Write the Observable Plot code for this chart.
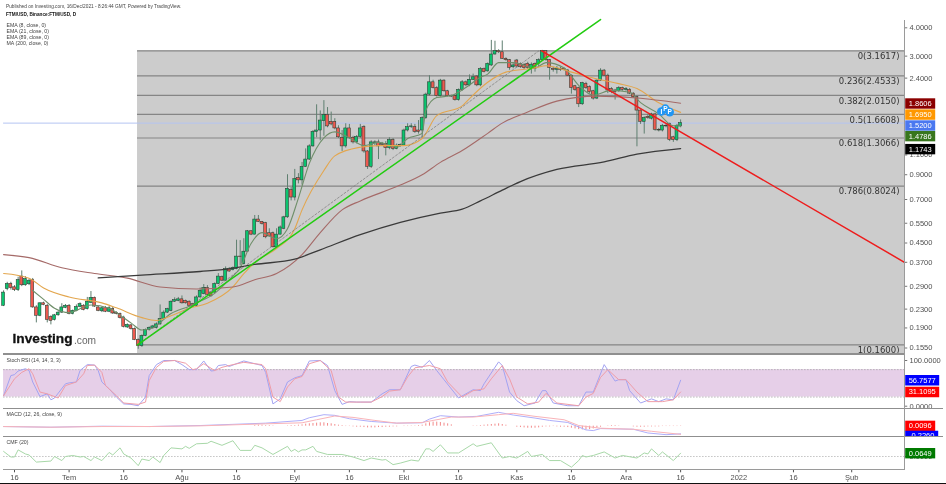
<!DOCTYPE html>
<html><head><meta charset="utf-8">
<script src="https://cdn.jsdelivr.net/npm/d3@7"></script>
<script src="https://cdn.jsdelivr.net/npm/@observablehq/plot@0.6"></script>
<style>
html,body{margin:0;padding:0;background:#fff}
#chart{position:relative;width:946px;height:484px;overflow:hidden;background:#fff;filter:blur(0.3px)}
#chart>svg{position:absolute;left:0;display:block}
.sep{position:absolute}
</style></head><body><div id="chart"></div>
<script>
// Candles, one per day from 2021-06-13 (day -3) to 2021-12-16 (day 183)
const open=[.238,.282,.297,.287,.279,.320,.293,.296,.309,.234,
.215,.244,.238,.212,.206,.216,.222,.233,.238,.219,
.226,.235,.238,.230,.245,.258,.234,.225,.232,.224,
.230,.221,.219,.211,.191,.195,.188,.168,.158,.175,
.186,.190,.190,.197,.208,.222,.226,.248,.250,.254,
.250,.248,.242,.238,.259,.268,.285,.272,.272,.297,
.318,.307,.345,.342,.345,.392,.363,.412,.507,.490,
.571,.558,.551,.497,.497,.431,.490,.520,.584,.770,
.714,.870,.850,.975,1.05,1.20,1.39,1.41,1.55,1.65,
1.54,1.54,1.44,1.31,1.20,1.44,1.31,1.25,1.32,1.46,
1.14,.975,1.24,1.25,1.23,1.23,1.18,1.28,1.17,1.21,
1.21,1.41,1.46,1.46,1.41,1.41,1.60,2.03,2.30,2.17,
2.00,2.34,2.10,2.00,2.00,1.92,2.13,2.30,2.23,2.36,
2.44,2.23,2.63,2.57,2.73,3.05,3.155,3.12,2.92,2.88,
2.68,2.87,2.775,2.74,2.775,2.64,2.775,2.775,2.88,3.155,
2.88,2.64,2.61,2.64,2.64,2.59,2.46,2.21,2.17,1.84,
2.26,2.19,2.10,1.95,2.34,2.59,2.46,2.15,2.116,2.10,
2.17,2.13,2.13,2.05,1.977,1.726,1.54,1.62,1.59,1.66,
1.42,1.41,1.48,1.507,1.316,1.28,1.47];
const high=[.277,.302,.302,.292,.318,.339,.320,.312,.314,.238,
.245,.247,.241,.215,.218,.224,.243,.241,.241,.228,
.240,.245,.241,.259,.275,.260,.236,.235,.236,.236,
.234,.224,.221,.214,.198,.197,.190,.170,.177,.188,
.192,.195,.200,.240,.226,.232,.250,.258,.259,.263,
.252,.250,.244,.263,.285,.295,.292,.275,.300,.330,
.322,.353,.351,.353,.463,.461,.470,.511,.510,.595,
.595,.560,.555,.520,.503,.520,.535,.590,.900,.790,
.950,.910,1.02,1.17,1.22,1.41,1.83,1.72,1.91,1.78,
1.70,1.59,1.48,1.41,1.51,1.50,1.33,1.34,1.50,1.48,
1.15,1.27,1.27,1.28,1.25,1.26,1.31,1.30,1.23,1.23,
1.43,1.51,1.51,1.50,1.56,1.62,2.06,2.46,2.35,2.20,
2.37,2.36,2.12,2.02,2.02,2.15,2.34,2.33,2.48,2.50,
2.46,2.67,2.66,2.80,3.52,3.49,3.20,3.50,2.95,2.90,
2.78,2.90,2.80,2.78,2.82,2.80,2.80,2.92,3.18,3.17,
2.90,2.68,2.70,2.68,2.66,2.62,2.48,2.23,2.19,2.30,
2.30,2.22,2.12,2.36,2.64,2.62,2.50,2.18,2.14,2.20,
2.19,2.18,2.16,2.07,2.00,1.74,1.62,1.66,1.68,1.68,
1.44,1.50,1.50,1.52,1.33,1.50,1.57];
const low=[.236,.277,.279,.275,.275,.289,.290,.292,.232,.200,
.213,.238,.200,.196,.204,.214,.220,.231,.217,.217,
.224,.233,.226,.228,.243,.234,.224,.222,.222,.222,
.218,.217,.208,.190,.189,.186,.167,.153,.156,.174,
.184,.188,.188,.195,.206,.220,.224,.246,.248,.242,
.242,.236,.234,.236,.257,.266,.264,.260,.270,.295,
.304,.304,.334,.339,.343,.357,.360,.410,.485,.488,
.555,.540,.470,.478,.428,.428,.488,.515,.578,.690,
.690,.820,.810,.970,1.04,1.19,1.31,1.27,1.33,1.45,
1.48,1.42,1.30,1.14,1.18,1.29,1.23,1.23,1.30,1.12,
.950,.960,1.21,1.05,1.20,1.09,1.16,1.15,1.16,1.19,
1.20,1.39,1.44,1.37,1.36,1.30,1.58,2.00,2.15,1.98,
1.98,2.08,1.98,1.97,1.90,1.90,2.10,2.20,2.20,2.34,
2.20,2.20,2.53,2.55,2.70,3.03,3.08,2.90,2.85,2.60,
2.64,2.66,2.65,2.62,2.62,2.50,2.55,2.70,2.85,2.85,
2.35,2.55,2.50,2.57,2.58,2.44,2.04,2.10,1.78,1.82,
2.14,2.05,1.92,1.93,2.32,2.44,2.05,2.05,1.92,2.08,
2.10,2.10,2.03,1.95,1.195,1.50,1.36,1.58,1.57,1.40,
1.39,1.39,1.45,1.26,1.25,1.26,1.45];
const close=[.272,.297,.285,.279,.309,.293,.312,.307,.234,.215,
.244,.240,.206,.204,.216,.222,.234,.238,.219,.226,
.235,.242,.228,.248,.258,.236,.226,.232,.224,.232,
.220,.219,.210,.192,.196,.188,.168,.158,.175,.186,
.190,.193,.197,.208,.222,.230,.248,.252,.254,.244,
.244,.238,.236,.259,.277,.285,.266,.262,.297,.320,
.307,.345,.337,.349,.392,.390,.412,.507,.490,.571,
.558,.546,.477,.481,.431,.490,.527,.584,.780,.714,
.860,.850,.975,1.05,1.20,1.39,1.41,1.56,1.65,1.47,
1.50,1.44,1.316,1.20,1.44,1.31,1.25,1.32,1.44,1.14,
.975,1.25,1.25,1.20,1.22,1.18,1.28,1.17,1.21,1.215,
1.41,1.46,1.47,1.39,1.39,1.60,2.03,2.30,2.17,2.00,
2.34,2.10,2.00,1.99,1.92,2.13,2.30,2.23,2.36,2.42,
2.23,2.63,2.55,2.775,3.05,3.155,3.12,2.92,2.88,2.66,
2.73,2.70,2.68,2.66,2.66,2.75,2.64,2.88,3.155,2.88,
2.66,2.61,2.64,2.61,2.61,2.46,2.17,2.13,1.84,2.28,
2.17,2.08,1.95,2.34,2.59,2.46,2.116,2.08,2.08,2.17,
2.13,2.15,2.05,1.977,1.726,1.54,1.60,1.60,1.66,1.42,
1.41,1.48,1.47,1.28,1.28,1.48,1.52];

const ema8Days=[5,8,11,15,21,26,28,32,35,38,43,48,50,55,59,62,65,68,72,75,78,81,85,88,92,96,100,105,108,112,113,116,120,124,128,130,133,137,143,146,151,155,159,164,169,172,177,181,183];
const ema8=[.278,.254,.232,.222,.24,.232,.222,.2,.186,.19,.22,.237,.245,.27,.31,.35,.448,.5,.47,.52,.71,1.01,1.31,1.39,1.31,1.21,1.25,1.19,1.3,1.37,1.73,1.97,2.01,2.18,2.42,2.5,2.81,2.81,2.66,2.81,2.66,2.23,2.02,2.12,2.08,1.87,1.67,1.48,1.4786];
const ema21Days=[-3,4,8,15,24,28,35,39,43,48,53,60,63,67,72,77,79,85,88,95,100,107,112,116,123,125,130,135,143,146,153,161,166,171,177,183];
const ema21=[.33,.315,.285,.26,.245,.233,.211,.205,.215,.232,.244,.288,.33,.38,.425,.52,.63,.94,1.09,1.19,1.21,1.21,1.3,1.64,1.81,1.95,2.3,2.55,2.66,2.72,2.55,2.36,2.27,2.16,1.87,1.695];
const ema89Days=[-3,4,13,22,31,40,50,60,66,72,79,84,90,95,106,112,117,123,130,134,141,149,160,171,183];
const ema89=[.4,.388,.35,.33,.315,.288,.282,.288,.31,.33,.4,.5,.63,.69,.81,.9,1.02,1.15,1.37,1.52,1.7,1.9,2,1.96,1.8606];
const ma200Days=[23,35,51,59,66,77,84,95,106,117,123,128,134,139,149,162,171,183];
const ma200=[.316,.325,.337,.346,.362,.382,.42,.49,.555,.61,.635,.69,.77,.84,.95,1.025,1.11,1.1743];

const fibLevels=["0","0.236","0.382","0.5","0.618","0.786","1"];
const fibPrices=[3.1617,2.4533,2.015,1.6608,1.3066,.8024,.16];
const fibFloor=.1465, fibFromDay=33.8, fibToDay=244.5;
const trendDays=[33.8,161], trendPrices=[.16,4.35];
const fibDiagDays=[33.8,144], fibDiagPrices=[.16,3.1617];
const fallDays=[144.8,244.5], fallPrices=[3.1617,.37];
const lastPrice=1.52;
const priceTicks=[4,3,2.4,1.1,.9,.7,.55,.45,.37,.29,.23,.19,.155];

const markerDays=[177.7,178.8,180], markerPrices=[1.71,1.76,1.70], markerLetters=["I","P","P"];

const stochKDays=[-3,-1,0,1,3,4,5,7,9,10,11,14,15,17,18,20,22,23,24,26,28,30,32,34,36,37,39,41,44,46,48,50,52,54,55,56,58,59,63,68,69,71,73,75,77,79,81,84,86,88,90,92,94,98,101,103,106,109,110,112,114,116,118,122,126,128,129,133,134,136,138,140,143,145,146,148,152,155,157,159,162,165,166,168,169,172,175,177,179,181,183];
const stochK=[23,67,69,77,82,78,53,21,27,14,18,49,51,53,78,91,90,78,53,38,20,5,4,1,20,67,91,100,100,91,80,80,99,77,78,89,91,87,99,89,74,5,16,53,62,67,99,100,89,34,4,10,9,9,27,36,36,87,90,85,100,78,58,18,36,34,49,97,89,31,12,1,7,34,34,7,1,1,31,31,91,55,58,58,34,7,16,10,16,14,56.7577];
const stochDDays=[-3,0,2,4,5,7,9,12,14,17,19,20,22,24,25,28,30,34,36,37,39,41,44,47,49,50,52,55,57,60,63,68,69,71,73,75,77,79,81,84,87,89,91,95,98,101,103,106,108,110,114,117,119,123,126,129,131,134,136,138,141,144,146,149,155,157,159,161,163,166,168,171,174,178,181,183];
const stochD=[23,60,74,82,71,31,27,18,45,53,71,89,90,74,45,23,7,4,9,56,85,98,100,94,80,82,93,78,85,91,96,91,82,20,10,42,60,65,93,100,78,20,9,9,9,21,33,36,64,84,89,82,53,20,34,38,60,89,60,20,5,9,28,7,1,20,28,63,80,58,58,31,10,10,14,31.1095];

const macdDays=[-3,10,24,37,51,69,79,81,85,88,92,98,105,112,114,117,122,127,133,137,143,147,152,157,159,161,170,174,179,183];
const macd=[-.01,-.03,0,-.01,.02,.09,.17,.25,.34,.32,.22,.14,.09,.1,.21,.31,.27,.29,.41,.33,.24,.17,.11,-.11,-.13,-.07,-.09,-.2,-.25,-.226];
const signalDays=[-3,10,24,37,51,69,79,83,88,93,99,105,112,115,120,126,133,137,143,151,155,161,170,175,183];
const signal=[-.01,-.03,-.01,-.01,.01,.07,.1,.19,.3,.26,.17,.09,.11,.17,.27,.27,.34,.38,.29,.19,.02,-.06,-.09,-.15,-.24];
const histFromDay=66;
const hist=[.02,.03,.03,.02,.02,.01,0,0,0,.01,.02,.02,.03,.04,
.06,.07,.08,.09,.10,.10,.08,.07,.05,.03,.02,
-.01,-.01,-.02,-.03,-.03,-.04,-.05,-.05,-.05,-.04,-.04,-.03,-.03,-.02,-.02,
0,-.01,-.01,.01,.01,.02,.03,
.07,.10,.12,.12,.11,.09,.07,.04,
0,0,0,0,0,.01,
.01,.02,.03,.04,.05,.06,.07,.05,
.03,0,0,
-.03,-.04,-.05,-.06,-.06,-.06,-.05,-.03,-.02,-.02,-.01,-.02,-.03,-.03,-.04,
-.06,-.08,-.10,-.11,-.11,-.10,-.08,-.05,
-.03,0,.01,.02,.02,.01,0,0,0,
-.02,-.03,-.03,-.03,-.02,-.02,-.02,-.02,-.01,-.01,-.01,-.01,-.01,.01];

const cmfDays=[-3,-1,0,1,3,4,6,10,11,13,14,16,18,19,21,22,24,26,27,29,30,32,34,35,37,38,40,41,43,46,47,48,50,53,54,57,60,62,65,66,68,71,75,76,77,78,79,80,82,83,86,90,93,96,98,101,102,104,106,109,111,113,114,115,117,119,122,126,127,131,134,136,138,141,142,145,147,150,153,155,156,157,159,162,165,167,171,173,174,175,177,178,181,183];
const cmf=[.1,-.01,-.01,.13,.05,.03,-.11,-.09,0,-.08,0,.02,-.01,0,-.08,-.01,-.08,.08,.03,.17,.05,-.03,-.18,-.05,-.08,-.01,-.12,.02,.17,.15,.2,.16,.25,.26,.3,.22,.31,.12,.12,.22,.17,.04,.2,.1,.14,.09,.13,.13,.2,.1,.04,.04,-.01,-.08,-.03,-.07,-.06,-.16,-.13,-.07,-.09,.15,.15,.1,.23,.07,.07,.25,.2,.27,-.03,0,-.03,.1,0,.04,-.08,-.08,-.21,-.08,.02,-.01,.02,.09,-.03,.02,-.03,.07,.05,.15,.02,.09,-.08,.0649];

const timeTickDates=["2021-06-16","2021-07-01","2021-07-16","2021-08-01","2021-08-16","2021-09-01","2021-09-16","2021-10-01","2021-10-16","2021-11-01","2021-11-16","2021-12-01","2021-12-16","2022-01-01","2022-01-16","2022-02-01"];
const timeTickLabels=["16","Tem","16","Ağu","16","Eyl","16","Eki","16","Kas","16","Ara","16","2022","16","Şub"];

// ---------- helpers ----------
const epoch=Date.UTC(2021,5,16);
const day=t=>new Date(epoch+t*864e5);
const series=(days,vals)=>days.map((t,i)=>({date:day(t),v:vals[i]}));
const xScale={type:"utc",domain:[day(-3),day(245)],range:[3.08,905.8],axis:null};
const sans="'Liberation Sans',Arial,sans-serif";
const common={width:946,marginLeft:0,marginTop:0,marginRight:42,marginBottom:0,x:xScale,
  style:{background:"transparent",fontFamily:sans,overflow:"visible"}};
const axisInk="#505050";
const note=(txt,dx,dy,o={})=>Plot.text([txt],{text:d=>d,frameAnchor:"top-left",textAnchor:"start",lineAnchor:"middle",dx,dy,fontSize:5.2,fill:"#444",...o});
function tag(value,label,fill,dy=0,w=30){
  return [
    Plot.dot([value],{y:d=>d,frameAnchor:"right",dx:w/2+.7,dy,fill,stroke:"none",
      symbol:{draw(c){c.rect(-w/2,-5.2,w,10.4)}}}),
    Plot.text([value],{y:d=>d,text:()=>label,frameAnchor:"right",textAnchor:"middle",dx:w/2+.7,dy,fill:"#fff",fontSize:7.5})
  ];
}
const tAxis=(vals)=>[
  Plot.ruleY(vals,{x1:()=>day(fibToDay),x2:()=>day(fibToDay+.9),stroke:axisInk,strokeWidth:.8}),
  Plot.text(vals,{y:d=>d,text:d=>d.toFixed(4),frameAnchor:"right",textAnchor:"start",dx:5,fontSize:7.5,fill:axisInk})
];

const candles=close.map((c,i)=>({t:i-3,open:open[i],high:high[i],low:low[i],close:c}));
const bodies=(test,fill)=>Plot.rect(candles.filter(test),{x1:d=>day(d.t-.4),x2:d=>day(d.t+.4),y1:"open",y2:"close",fill,stroke:"#2a3a30",strokeWidth:.55});
const fibData=fibPrices.map((p,i)=>({p,label:`${fibLevels[i]}(${p.toFixed(4)})`}));
const line=(d,stroke,strokeWidth=1.1,o={})=>Plot.line(d,{x:"date",y:"v",stroke,strokeWidth,curve:"monotone-x",...o});

// ---------- price panel ----------
const main=Plot.plot({...common,height:354,
  y:{type:"log",domain:[4,.155],range:[27.3,347.5],axis:null},
  marks:[
    Plot.rect([0],{x1:()=>day(fibFromDay),x2:()=>day(fibToDay),y1:()=>fibPrices[0],y2:()=>fibFloor,fill:"#cccccc"}),
    Plot.ruleY(fibPrices,{x1:()=>day(fibFromDay),x2:()=>day(fibToDay),stroke:"#858585",strokeWidth:1.2}),
    Plot.ruleY([lastPrice],{x1:()=>day(-3),x2:()=>day(fibToDay),stroke:"#b4c4f2",strokeWidth:1}),
    Plot.ruleX(candles,{x:d=>day(d.t),y1:"low",y2:"high",stroke:"#5f7f70",strokeWidth:1}),
    bodies(d=>d.close>=d.open,"#0bc46f"),
    bodies(d=>d.close<d.open,"#ee5a50"),
    line(series(ema8Days,ema8),"#6f8f6a"),
    line(series(ema21Days,ema21),"#e3a64e"),
    line(series(ema89Days,ema89),"#a56a68"),
    line(series(ma200Days,ma200),"#3a3a3a",1.3),
    Plot.line(series(fibDiagDays,fibDiagPrices),{x:"date",y:"v",stroke:"#777",strokeWidth:.7,strokeDasharray:"2,2"}),
    Plot.line(series(trendDays,trendPrices),{x:"date",y:"v",stroke:"#22cc11",strokeWidth:1.5}),
    Plot.line(series(fallDays,fallPrices),{x:"date",y:"v",stroke:"#ee1c1c",strokeWidth:1.5}),
    Plot.dot(series(markerDays,markerPrices),{x:"date",y:"v",r:4.3,fill:"#2196f3"}),
    Plot.text(series(markerDays,markerPrices),{x:"date",y:"v",text:(d,i)=>markerLetters[i],fill:"#fff",fontSize:6.5,fontWeight:700}),
    Plot.text(fibData,{y:"p",text:"label",frameAnchor:"right",textAnchor:"end",dx:-5,dy:5.5,fontFamily:"'DejaVu Sans',sans-serif",fontSize:8.5,fill:"#333"}),
    tAxis(priceTicks),
    tag(1.8606,"1.8606","#8b0000",.3),
    tag(1.695,"1.6950","#ff9800",2.2),
    tag(1.52,"1.5200","#4a78f0",2.4),
    tag(1.4786,"1.4786","#38761d",10.3),
    tag(1.1743,"1.1743","#000",.6),
    note("Published on Investing.com, 16/Dec/2021 - 8:26:44 GMT, Powered by TradingView.",5.5,6,{fontSize:4.75}),
    note("FTM/USD, Binance:FTM/USD, D",5.5,14,{fontSize:4.7,fontWeight:700,fill:"#111"}),
    note("EMA (8, close, 0)",6,25),
    note("EMA (21, close, 0)",6,31),
    note("EMA (89, close, 0)",6,36.7),
    note("MA (200, close, 0)",6,42.5),
    note("Investing",12,338.5,{fontWeight:700,fill:"#111",fontSize:13.7,stroke:"#111",strokeWidth:.3}),
    note(".com",73.5,340,{fontSize:10.2,fill:"#666"})
  ]});

// ---------- Stoch RSI ----------
const stoch=Plot.plot({...common,height:55,
  y:{domain:[0,100],range:[51.7,6],axis:null},
  marks:[
    Plot.rect([0],{x1:()=>day(-3),x2:()=>day(fibToDay),y1:()=>20,y2:()=>80,fill:"#e6cfe8"}),
    Plot.ruleY([20,80],{x1:()=>day(-3),x2:()=>day(fibToDay),stroke:"#a8a8a8",strokeWidth:.8,strokeDasharray:"1.5,1.5"}),
    Plot.line(series(stochKDays,stochK),{x:"date",y:"v",stroke:"#a3a3f2",strokeWidth:1}),
    Plot.line(series(stochDDays,stochD),{x:"date",y:"v",stroke:"#ef9da8",strokeWidth:1}),
    tAxis([100,0]),
    tag(56.7577,"56.7577","#0000ff",0,34),
    tag(31.1095,"31.1095","#ff0000",0,34),
    note("Stoch RSI (14, 14, 3, 3)",6,5.7)
  ]});

// ---------- MACD ----------
const macdPlot=Plot.plot({...common,height:27,style:{...common.style,overflow:"hidden"},
  y:{domain:[0,.4],range:[16.7,3.14],axis:null},
  marks:[
    Plot.ruleX(hist,{x:(d,i)=>day(histFromDay+i),y1:()=>0,y2:d=>d,stroke:"#f28a8a",strokeWidth:1}),
    Plot.line(series(macdDays,macd),{x:"date",y:"v",stroke:"#aeaefa",strokeWidth:1}),
    Plot.line(series(signalDays,signal),{x:"date",y:"v",stroke:"#f9b3b8",strokeWidth:1}),
    tag(.0096,"0.0096","#ff0000",0,30),
    tag(-.226,"-0.2260","#0000ff",2,33),
    note("MACD (12, 26, close, 9)",6,5.2)
  ]});

// ---------- CMF + time axis ----------
const cmfPlot=Plot.plot({...common,height:48,marginBottom:14.7,
  y:{domain:[0,.3],range:[20,4.76],axis:null},
  marks:[
    Plot.ruleY([0],{x1:()=>day(-3),x2:()=>day(fibToDay),stroke:"#b5b5b5",strokeWidth:.8,strokeDasharray:"1.5,1.5"}),
    Plot.line(series(cmfDays,cmf),{x:"date",y:"v",stroke:"#a8d8a8",strokeWidth:1}),
    tAxis([0]),
    tag(.0649,"0.0649","#007a00",0,30),
    note("CMF (20)",6,6),
    Plot.axisX(timeTickDates.map(s=>new Date(s+"T00:00Z")),{anchor:"bottom",tickSize:3,tickPadding:1.5,fontSize:7.5,color:axisInk,label:null,
      tickFormat:d=>timeTickLabels[timeTickDates.indexOf(d.toISOString().slice(0,10))]})
  ]});

// ---------- assemble ----------
const root=document.getElementById("chart");
[[main,0],[stoch,354],[macdPlot,409],[cmfPlot,436]].forEach(([p,top])=>{p.style.top=top+"px";root.appendChild(p)});
const rule=(l,t,w,h,c)=>{const e=document.createElement("div");e.className="sep";e.style.cssText=`left:${l}px;top:${t}px;width:${w}px;height:${h}px;background:${c}`;root.appendChild(e)};
rule(3,353,901,1.5,"#8f8f8f");
rule(3,408,940,1.2,"#8f8f8f");
rule(3,435.6,940,1.2,"#8f8f8f");
rule(3,468.8,901,1,"#9a9a9a");
rule(904,20,1,449.5,"#9a9a9a");
rule(0,482.6,946,1.4,"#111");
</script></body></html>
